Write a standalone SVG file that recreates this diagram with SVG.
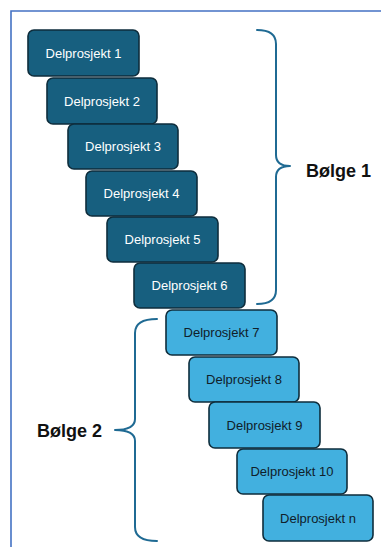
<svg xmlns="http://www.w3.org/2000/svg" width="381" height="547" viewBox="0 0 381 547">
<style>
.box{stroke:#0e2d3c;stroke-width:1.6}
.w1{fill:#175f7f}
.w2{fill:#42b0df}
.lbl{font-family:"Liberation Sans",Arial,sans-serif;font-size:13px;text-anchor:middle}
.t1{fill:#ffffff}
.t2{fill:#10202a}
.brace{fill:none;stroke:#1f6a93;stroke-width:2;stroke-linecap:round;stroke-linejoin:round}
.wave{font-family:"Liberation Sans",Arial,sans-serif;font-size:18px;font-weight:bold;fill:#111111}
</style>
<rect width="381" height="547" fill="#ffffff"/>
<path d="M11,547 L11,11 L381,11" fill="none" stroke="#4472c4" stroke-width="1.6"/>
<g id="node1"><rect class="box w1" x="28" y="30" width="111" height="46" rx="6"/><text class="lbl t1" x="83.5" y="57.5">Delprosjekt 1</text></g>
<g id="node2"><rect class="box w1" x="47" y="78" width="110" height="46" rx="6"/><text class="lbl t1" x="102" y="105.5">Delprosjekt 2</text></g>
<g id="node3"><rect class="box w1" x="68" y="124" width="110" height="45" rx="6"/><text class="lbl t1" x="123" y="151">Delprosjekt 3</text></g>
<g id="node4"><rect class="box w1" x="86" y="171" width="111" height="45" rx="6"/><text class="lbl t1" x="141.5" y="198">Delprosjekt 4</text></g>
<g id="node5"><rect class="box w1" x="107" y="217" width="111" height="45" rx="6"/><text class="lbl t1" x="162.5" y="244">Delprosjekt 5</text></g>
<g id="node6"><rect class="box w1" x="134" y="263" width="111" height="45" rx="6"/><text class="lbl t1" x="189.5" y="290">Delprosjekt 6</text></g>
<g id="node7"><rect class="box w2" x="166" y="310" width="111" height="45" rx="6"/><text class="lbl t2" x="221.5" y="337">Delprosjekt 7</text></g>
<g id="node8"><rect class="box w2" x="189" y="357" width="110" height="45" rx="6"/><text class="lbl t2" x="244" y="384">Delprosjekt 8</text></g>
<g id="node9"><rect class="box w2" x="209" y="402" width="111" height="46" rx="6"/><text class="lbl t2" x="264.5" y="429.5">Delprosjekt 9</text></g>
<g id="node10"><rect class="box w2" x="237" y="449" width="110" height="45" rx="6"/><text class="lbl t2" x="292" y="476">Delprosjekt 10</text></g>
<g id="noden"><rect class="box w2" x="263" y="495" width="110" height="46" rx="6"/><text class="lbl t2" x="318" y="522.5">Delprosjekt n</text></g>
<g id="connectors">
<path class="brace" d="M257,30 Q276,30 276,44 L276,155 Q276,166 290,166 Q276,166 276,177 L276,290 Q276,304 257,304"/>
<path class="brace" d="M157,319 Q135,319 135,333 L135,419 Q135,430 115,430 Q135,430 135,441 L135,527 Q135,541 157,541"/>
</g>
<g id="wave1"><text class="wave" x="306" y="177">Bølge 1</text></g>
<g id="wave2"><text class="wave" x="37" y="437">Bølge 2</text></g>
</svg>
